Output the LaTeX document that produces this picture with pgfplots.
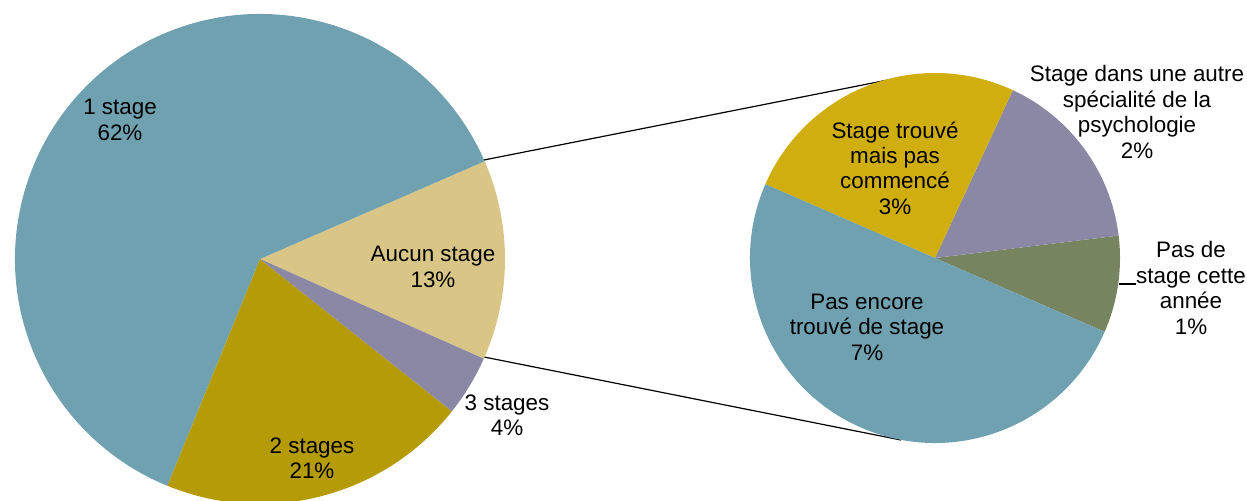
\documentclass[border=0pt]{standalone}
\usepackage{fontspec}
\setmainfont{Liberation Sans}
\usepackage{pgfplots}
\pgfplotsset{compat=1.18}
\definecolor{cteal}{HTML}{6FA1B1}
\definecolor{ctan}{HTML}{D9C687}
\definecolor{colive}{HTML}{B59B06}
\definecolor{cpurple}{HTML}{8B88A5}
\definecolor{cgold}{HTML}{CFAE0D}
\definecolor{cgreen}{HTML}{768460}
\newcommand{\lab}{\fontsize{11.2}{12.7}\selectfont}
% one axis unit = one pixel of the reference = 0.5pt
\def\px{0.5pt}
% #1 cx, #2 cy, #3 radius (px), #4 start angle, #5 list value/colour (counter-clockwise)
\newcommand{\drawpie}[5]{%
  \xdef\pietot{0}%
  \foreach \v/\col in {#5} {\pgfmathsetmacro\t{\pietot+\v}\xdef\pietot{\t}}%
  \xdef\pieang{#4}%
  \foreach \v/\col in {#5} {%
    \pgfmathsetmacro\d{\v/\pietot*360}%
    \fill[\col] (axis cs:#1,#2) -- ++(\pieang:#3*\px)
      arc[start angle=\pieang, delta angle=\d, radius=#3*\px] -- cycle;
    \pgfmathsetmacro\e{\pieang+\d}\xdef\pieang{\e}}%
}
\begin{document}
\begin{tikzpicture}
\begin{axis}[
  width=623.5pt, height=250.5pt, scale only axis,
  xmin=0, xmax=1247, ymin=0, ymax=501, y dir=reverse,
  hide axis, clip=true]
% connectors from the "Aucun stage" slice to the second pie
\addplot[black, line width=0.6pt] coordinates {(484,160) (903,77)};
\addplot[black, line width=0.6pt] coordinates {(484,357) (901,440)};
\pgfplotsextra{%
  % main pie: Aucun stage, 1 stage, 2 stages, 3 stages
  \drawpie{260}{259}{245}{-24.0}{13.2/ctan, 62.3/cteal, 20.5/colive, 4.0/cpurple}%
  % detail of "Aucun stage": pas de stage, autre spécialité, trouvé, pas encore
  \drawpie{935}{258}{185}{-23.5}{1.1/cgreen, 2.1/cpurple, 3.3/cgold, 6.5/cteal}%
}
\addplot[black, line width=0.6pt] coordinates {(1119,284) (1136,284)};
\node[align=center, font=\lab] at (axis cs:120,120) {1 stage\\62\%};
\node[align=center, font=\lab] at (axis cs:433,267) {Aucun stage\\13\%};
\node[align=center, font=\lab] at (axis cs:507,415) {3 stages\\4\%};
\node[align=center, font=\lab] at (axis cs:312,458) {2 stages\\21\%};
\node[align=center, font=\lab] at (axis cs:895,168) {Stage trouvé\\mais pas\\commencé\\3\%};
\node[align=center, font=\lab] at (axis cs:1137,112) {Stage dans une autre\\spécialité de la\\psychologie\\2\%};
\node[align=center, font=\lab] at (axis cs:1191,288) {Pas de\\stage cette\\année\\1\%};
\node[align=center, font=\lab] at (axis cs:867,327) {Pas encore\\trouvé de stage\\7\%};
\end{axis}
\end{tikzpicture}
\end{document}
